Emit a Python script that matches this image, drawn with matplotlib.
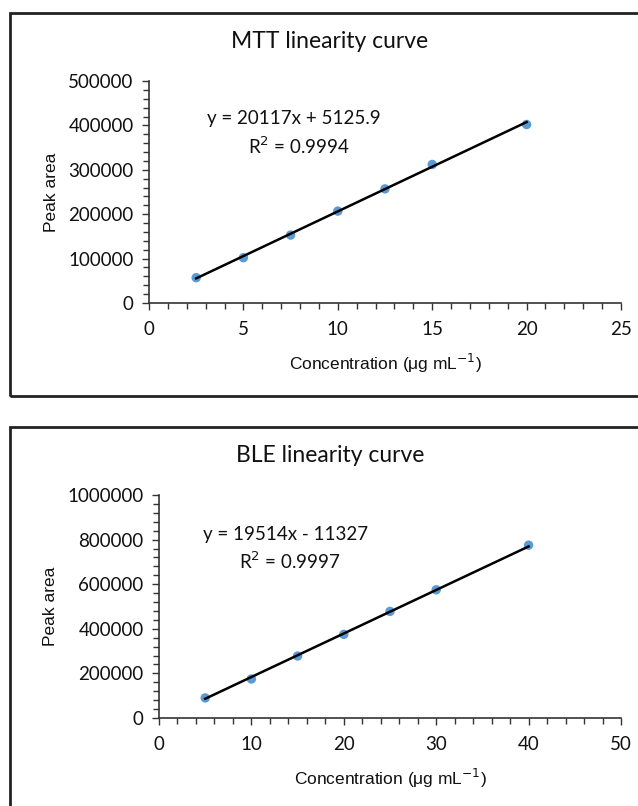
import matplotlib
matplotlib.use("Agg")
import matplotlib.pyplot as plt
from matplotlib.patches import Rectangle
from matplotlib.ticker import MultipleLocator, FuncFormatter
import numpy as np

# ---- data ----
mtt_conc = [2.5, 5, 7.5, 10, 12.5, 15, 20]
mtt_area = [57000, 102000, 153000, 207000, 257000, 312000, 402000]
mtt_slope, mtt_intercept = 20117, 5125.9
mtt_eq = "y = 20117x + 5125.9"
mtt_r2 = "R$^2$ = 0.9994"

ble_conc = [5, 10, 15, 20, 25, 30, 40]
ble_area = [90000, 175000, 278000, 375000, 478000, 575000, 775000]
ble_slope, ble_intercept = 19514, -11327
ble_eq = "y = 19514x - 11327"
ble_r2 = "R$^2$ = 0.9997"

fig = plt.figure(figsize=(6.38, 8.06), dpi=100)
fig.patch.set_facecolor("white")

# frames
fig.patches.append(Rectangle((10/638, (806-396)/806), 1.2, (396-13)/806,
                             transform=fig.transFigure, fill=False,
                             edgecolor="#222222", linewidth=2, zorder=0))
fig.patches.append(Rectangle((10/638, -0.2), 1.2, 0.2 + (806-427)/806,
                             transform=fig.transFigure, fill=False,
                             edgecolor="#222222", linewidth=2, zorder=0))

cal = "Lato"
ari = "Liberation Sans"
txtc = "#111111"

def make(ax, x, y, slope, icpt, eq, r2, title, xmax, xmaj, xmin, ymax, ymaj, ymin,
         eqx, eqy, r2y, title_y):
    ax.scatter(x, y, s=46, color="#5B9BD5", zorder=3, edgecolors="none")
    xs = np.array([x[0], x[-1]])
    ax.plot(xs, slope * xs + icpt, color="black", linewidth=1.8, zorder=4)
    ax.set_xlim(0, xmax)
    ax.set_ylim(0, ymax)
    ax.xaxis.set_major_locator(MultipleLocator(xmaj))
    ax.xaxis.set_minor_locator(MultipleLocator(xmin))
    ax.yaxis.set_major_locator(MultipleLocator(ymaj))
    ax.yaxis.set_minor_locator(MultipleLocator(ymin))
    ax.xaxis.set_major_formatter(FuncFormatter(lambda v, p: f"{int(v)}"))
    ax.yaxis.set_major_formatter(FuncFormatter(lambda v, p: f"{int(v)}"))
    for s in ["top", "right"]:
        ax.spines[s].set_visible(False)
    for s in ["left", "bottom"]:
        ax.spines[s].set_color("#333333")
        ax.spines[s].set_linewidth(1.2)
    ax.tick_params(which="major", direction="out", length=5, width=1.0, color="#333333")
    ax.tick_params(which="minor", direction="out", length=4, width=1.0, color="#333333")
    ax.tick_params(axis="x", pad=8)
    ax.tick_params(axis="y", pad=6)
    for lab in ax.get_xticklabels() + ax.get_yticklabels():
        lab.set_fontfamily(cal)
        lab.set_fontsize(13.5)
        lab.set_color(txtc)
    ax.set_xlabel("Concentration (μg mL$^{-1}$)", fontfamily=ari, fontsize=12.5,
                  labelpad=10, color=txtc)
    ax.set_ylabel("Peak area", fontfamily=ari, fontsize=12.5, labelpad=7, color=txtc)
    ax.text(eqx, eqy, eq, transform=ax.transAxes, ha="center", va="center",
            fontfamily=cal, fontsize=13.5, color=txtc)
    ax.text(eqx + 0.01, r2y, r2, transform=ax.transAxes, ha="center", va="center",
            fontfamily=cal, fontsize=13.5, color=txtc)
    fig.text(330/638, title_y, title, ha="center", va="center",
             fontfamily=cal, fontsize=16.5, color=txtc)

ax1 = fig.add_axes([149/638, (806-303)/806, 472/638, 222/806])
make(ax1, mtt_conc, mtt_area, mtt_slope, mtt_intercept, mtt_eq, mtt_r2,
     "MTT linearity curve", 25, 5, 1, 500000, 100000, 20000,
     0.307, 0.829, 0.707, (806-42)/806)

ax2 = fig.add_axes([159/638, (806-718)/806, 462/638, 223/806])
make(ax2, ble_conc, ble_area, ble_slope, ble_intercept, ble_eq, ble_r2,
     "BLE linearity curve", 50, 10, 2, 1000000, 200000, 40000,
     0.273, 0.821, 0.704, (806-456)/806)

fig.savefig("out.png", dpi=100)
